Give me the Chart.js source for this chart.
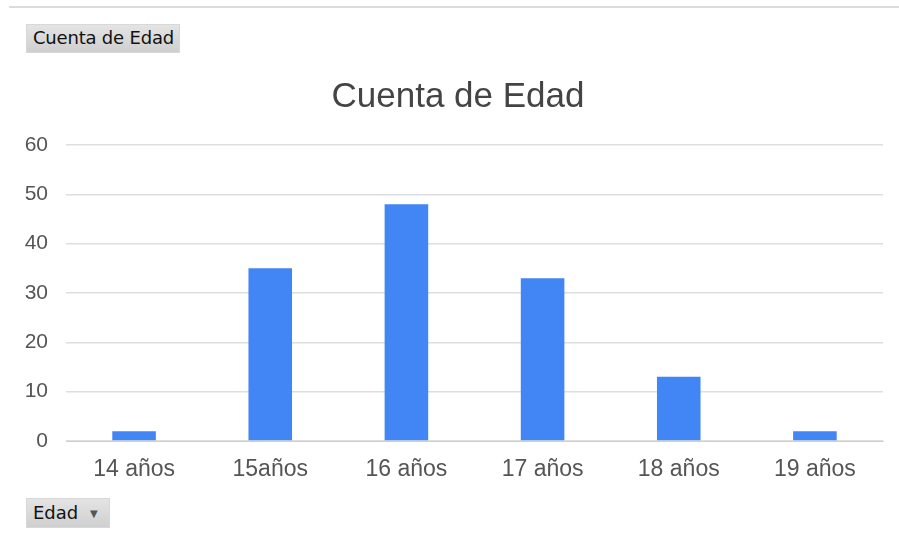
<!DOCTYPE html>
<html>
<head>
<meta charset="utf-8">
<script src="https://cdn.jsdelivr.net/npm/chart.js@4"></script>
<style>
  body { margin: 0; background: #fff; font-family: 'DejaVu Sans', Arial, sans-serif; }
  #wrap { position: absolute; left: 0; top: 0; width: 899px; height: 536px; }
  .topline { position: absolute; left: 9px; top: 6px; width: 890px; height: 2px; background: #dcdcdc; }
  .btn {
    position: absolute;
    background: linear-gradient(#e4e4e4, #cfcfcf);
    border: 1px solid #d8d8d8;
    color: #111;
    font-size: 17px;
    box-sizing: border-box;
    line-height: 26px;
    padding-left: 6px;
  }
</style>
</head>
<body>
<div class="topline"></div>
<div id="wrap"><canvas id="chart"></canvas></div>
<div class="btn" style="left:26px;top:24px;width:154px;height:29px;font-size:18px;letter-spacing:-0.2px">Cuenta de Edad</div>
<div class="btn" style="left:26px;top:498px;width:84px;height:30px;line-height:28px;font-size:18px">Edad <span style="font-size:10px;color:#555;margin-left:6px;vertical-align:2px">&#9660;</span></div>
<script>
// datos
const edades = ['14 años', '15años', '16 años', '17 años', '18 años', '19 años'];
const cuenta = [2, 35, 48, 33, 13, 2];
const yTicks = [0, 10, 20, 30, 40, 50, 60];

const ctx = document.getElementById('chart').getContext('2d');

// el título se centra un poco a la derecha, como en el original
const moverTitulo = {
  id: 'moverTitulo',
  afterLayout(chart) {
    if (chart.titleBlock) chart.titleBlock.left = 33;
  }
};

new Chart(ctx, {
  type: 'bar',
  data: {
    labels: edades,
    datasets: [{
      label: 'Cuenta de Edad',
      data: cuenta,
      backgroundColor: '#4285f4',
      borderWidth: 0,
      categoryPercentage: 1,
      barPercentage: 0.32
    }]
  },
  options: {
    responsive: true,
    maintainAspectRatio: false,
    animation: false,
    layout: { padding: { left: 0, right: 16, top: 0, bottom: 0 } },
    plugins: {
      legend: { display: false },
      tooltip: { enabled: false },
      title: {
        display: true,
        text: 'Cuenta de Edad',
        color: '#444',
        font: { family: 'Liberation Sans, Arial', size: 35, weight: 'normal' },
        padding: { top: 76, bottom: 27 }
      }
    },
    scales: {
      x: {
        grid: { display: false, drawTicks: false },
        border: { color: '#cfcfcf', width: 1 },
        ticks: { color: '#555', font: { family: 'Liberation Sans, Arial', size: 23 }, padding: 15 },
        afterFit: s => { s.height = 95; }
      },
      y: {
        min: 0,
        max: 60,
        afterBuildTicks: s => { s.ticks = yTicks.map(v => ({ value: v })); },
        grid: { color: '#dedede', lineWidth: 1.5, drawTicks: false },
        border: { display: false },
        ticks: { color: '#555', font: { family: 'Liberation Sans, Arial', size: 21 }, padding: 18 },
        afterFit: s => { s.width = 66; }
      }
    }
  },
  plugins: [moverTitulo]
});
</script>
</body>
</html>
